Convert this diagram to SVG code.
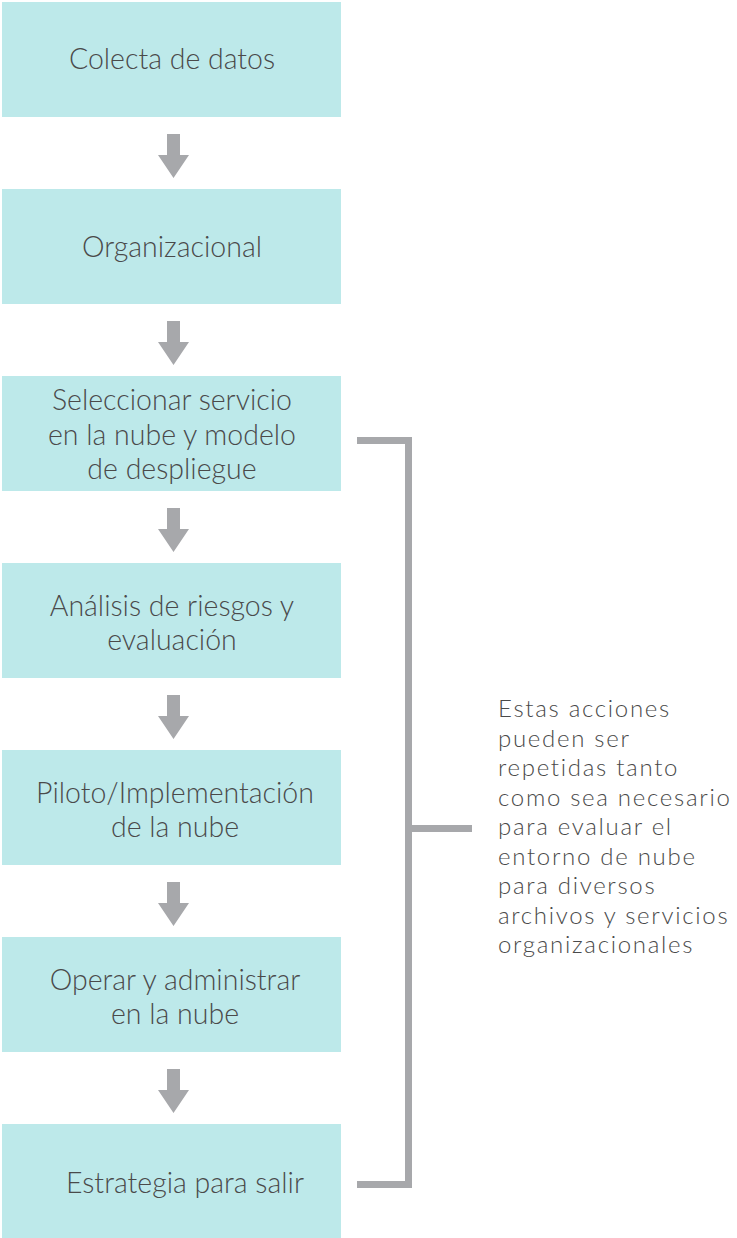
<svg xmlns="http://www.w3.org/2000/svg" width="737" height="1238" viewBox="0 0 737 1238">
<style>
.box{fill:#BDE9EA}
.t{font-family:Lato,"Liberation Sans",sans-serif;font-weight:300;font-size:28.5px;fill:#4a4a4a;text-anchor:middle}
.n{font-family:Lato,"Liberation Sans",sans-serif;font-weight:300;font-size:24px;letter-spacing:1.7px;fill:#4a4a4a}
.arr{fill:#A7A8AB}
.br{fill:none;stroke:#A7A8AB;stroke-width:7}
</style>
<defs>
<path id="dn" d="M167,0 H180 V21 H189 L173.5,44 L158,21 H167 Z"/>
</defs>
<rect width="737" height="1238" fill="#fff"/>
<g id="n1"><rect class="box" x="2" y="2" width="339" height="115"/><text class="t" x="172" y="69">Colecta de datos</text></g>
<g id="n2"><rect class="box" x="2" y="189" width="339" height="115"/><text class="t" x="172" y="257">Organizacional</text></g>
<g id="n3"><rect class="box" x="2" y="376" width="339" height="115"/><text class="t" x="172" y="410">Seleccionar servicio</text><text class="t" x="172" y="445">en la nube y modelo</text><text class="t" x="172" y="479">de despliegue</text></g>
<g id="n4"><rect class="box" x="2" y="563" width="339" height="115"/><text class="t" x="172" y="616">Análisis de riesgos  y</text><text class="t" x="172" y="650">evaluación</text></g>
<g id="n5"><rect class="box" x="2" y="750" width="339" height="115"/><text class="t" x="175" y="803">Piloto/Implementación</text><text class="t" x="175" y="837">de la  nube</text></g>
<g id="n6"><rect class="box" x="2" y="937" width="339" height="115"/><text class="t" x="175" y="990">Operar y administrar</text><text class="t" x="175" y="1024">en la nube</text></g>
<g id="n7"><rect class="box" x="2" y="1124" width="339" height="114"/><text class="t" x="185" y="1193">Estrategia para salir</text></g>
<g id="connectors">
<use href="#dn" class="arr" y="134"/>
<use href="#dn" class="arr" y="321"/>
<use href="#dn" class="arr" y="508"/>
<use href="#dn" class="arr" y="695"/>
<use href="#dn" class="arr" y="882"/>
<use href="#dn" class="arr" y="1069"/>
<path class="br" d="M357,440.5 H408.5 V1184.5 H357 M408.5,828.5 H472"/>
</g>
<g id="note">
<text class="n" x="498" y="717">Estas acciones</text>
<text class="n" x="498" y="746.5">pueden ser</text>
<text class="n" x="498" y="776">repetidas tanto</text>
<text class="n" x="498" y="805.5">como sea necesario</text>
<text class="n" x="498" y="835">para evaluar el</text>
<text class="n" x="498" y="864.5">entorno de nube</text>
<text class="n" x="498" y="894">para diversos</text>
<text class="n" x="498" y="923.5">archivos y servicios</text>
<text class="n" x="498" y="953">organizacionales</text>
</g>
</svg>
